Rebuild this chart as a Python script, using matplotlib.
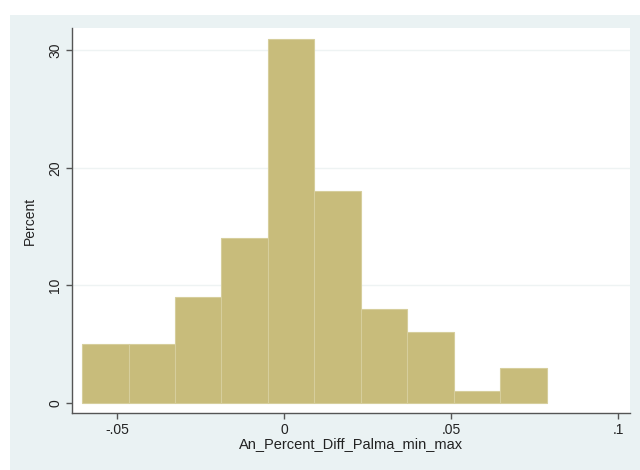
import numpy as np
import matplotlib
matplotlib.use("Agg")
import matplotlib.pyplot as plt
from matplotlib.patches import Rectangle

plt.rcParams["font.family"] = ["Liberation Sans", "DejaVu Sans"]

# histogram of An_Percent_Diff_Palma_min_max (10 bins)
bin_start = -0.0605
bin_width = 0.01392
percent = [5, 5, 9, 14, 31, 18, 8, 6, 1, 3]

xticks = [-0.05, 0, 0.05, 0.1]
xtick_labels = ["-.05", "0", ".05", ".1"]
yticks = [0, 10, 20, 30]

bar_color = "#c8bc7b"
region_color = "#eaf2f3"

fig = plt.figure(figsize=(6.4, 4.7), dpi=100)
fig.patch.set_facecolor("white")
# light graph region, like Stata's s2color scheme
fig.add_artist(Rectangle((10 / 640, 0), 1 - 10 / 640, 455 / 470,
                         transform=fig.transFigure, facecolor=region_color,
                         edgecolor="none", zorder=-5))

ax = fig.add_axes([72 / 640, 57 / 470, 558 / 640, 385 / 470])
ax.set_facecolor("white")

lefts = bin_start + bin_width * np.arange(len(percent))
ax.bar(lefts, percent, width=bin_width, align="edge", color=bar_color,
       edgecolor="#d6ce9c", linewidth=0.8, zorder=2)

for y in yticks[1:]:
    ax.axhline(y, color="#eef3f3", linewidth=1.0, zorder=1)

ax.set_xlim(-0.0635, 0.1036)
ax.set_ylim(-0.85, 31.9)
ax.set_xticks(xticks)
ax.set_xticklabels(xtick_labels)
ax.set_yticks(yticks)
ax.set_yticklabels([str(v) for v in yticks], rotation=90, va="center")

for s in ["top", "right"]:
    ax.spines[s].set_visible(False)
for s in ["left", "bottom"]:
    ax.spines[s].set_color("#555555")
    ax.spines[s].set_linewidth(1.0)

ax.tick_params(direction="out", length=4, width=1, colors="#555555",
               labelcolor="#222222", labelsize=10, pad=3)
ax.set_xlabel("An_Percent_Diff_Palma_min_max", fontsize=10.5, color="#222222",
              labelpad=0)
ax.set_ylabel("Percent", fontsize=10, color="#222222", labelpad=8)

fig.savefig("out.png", dpi=100)
